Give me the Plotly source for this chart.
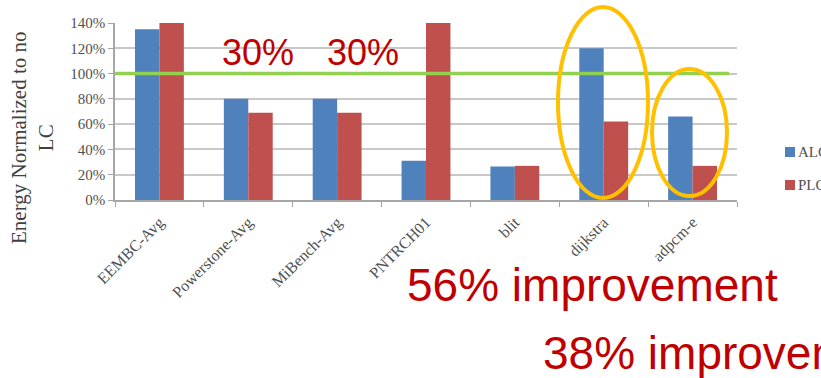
import plotly.graph_objects as go

categories = ["EEMBC-Avg", "Powerstone-Avg", "MiBench-Avg", "PNTRCH01", "blit", "dijkstra", "adpcm-e"]
alc = [135, 80, 80, 31, 26.5, 120, 66]
plc = [140, 69, 69, 140, 27, 62, 27]
y_ticks = [0, 20, 40, 60, 80, 100, 120, 140]
y_tick_labels = ["0%", "20%", "40%", "60%", "80%", "100%", "120%", "140%"]
baseline = 100

W, H = 821, 378
L, R, T, B = 115, 737, 23, 200  # plot area in pixels
PW, PH = R - L, B - T

def px(x):
    return (x - L) / PW

def py(y):
    return (B - y) / PH

fig = go.Figure()
fig.add_bar(x=categories, y=alc, name="ALC", marker=dict(color="#4F81BD", line=dict(width=0)))
fig.add_bar(x=categories, y=plc, name="PLC", marker=dict(color="#C0504D", line=dict(width=0)))

serif = "Liberation Serif"
sans = "Liberation Sans"
red = "#C00000"

shapes = [
    dict(type="line", xref="paper", yref="y", x0=0, x1=px(729), y0=baseline, y1=baseline,
         line=dict(color="#92D050", width=3.5)),
    dict(type="circle", xref="paper", yref="paper", x0=px(558), x1=px(648), y0=py(198), y1=py(7),
         line=dict(color="#FFC000", width=4)),
    dict(type="circle", xref="paper", yref="paper", x0=px(652), x1=px(727), y0=py(196), y1=py(69),
         line=dict(color="#FFC000", width=4)),
    dict(type="rect", xref="paper", yref="paper", x0=px(785), x1=px(795), y0=py(157), y1=py(147),
         fillcolor="#4F81BD", line=dict(width=0)),
    dict(type="rect", xref="paper", yref="paper", x0=px(785), x1=px(795), y0=py(190), y1=py(180),
         fillcolor="#C0504D", line=dict(width=0)),
]

annotations = [
    dict(text="30%", xref="paper", yref="paper", x=px(220), y=py(52), xanchor="left", yanchor="middle",
         showarrow=False, font=dict(family=sans, size=36, color=red)),
    dict(text="30%", xref="paper", yref="paper", x=px(325), y=py(52), xanchor="left", yanchor="middle",
         showarrow=False, font=dict(family=sans, size=36, color=red)),
    dict(text="56% improvement", xref="paper", yref="paper", x=px(405), y=py(285), xanchor="left",
         yanchor="middle", showarrow=False, font=dict(family=sans, size=46, color=red)),
    dict(text="38% improvement", xref="paper", yref="paper", x=px(541), y=py(353), xanchor="left",
         yanchor="middle", showarrow=False, font=dict(family=sans, size=46, color=red)),
    dict(text="ALC", xref="paper", yref="paper", x=px(796), y=py(152), xanchor="left", yanchor="middle",
         showarrow=False, font=dict(family=serif, size=15, color="#505050")),
    dict(text="PLC", xref="paper", yref="paper", x=px(796), y=py(185), xanchor="left", yanchor="middle",
         showarrow=False, font=dict(family=serif, size=15, color="#505050")),
    dict(text="Energy Normalized to no<br>LC", xref="paper", yref="paper", x=px(32), y=py(138),
         xanchor="center", yanchor="middle", textangle=-90, showarrow=False,
         font=dict(family=serif, size=21, color="#404040")),
]

fig.update_layout(
    width=W, height=H,
    margin=dict(l=L, r=W - R, t=T, b=H - B, pad=0),
    paper_bgcolor="white", plot_bgcolor="white",
    barmode="group", bargap=0.45, bargroupgap=0,
    showlegend=False,
    shapes=shapes, annotations=annotations,
    xaxis=dict(
        tickangle=-45, tickfont=dict(family=serif, size=16, color="#505050"),
        ticklabelstandoff=5,
        showline=True, linecolor="#A6A6A6", linewidth=1.5,
        ticks="outside", tickson="boundaries", ticklen=5, tickcolor="#A6A6A6",
        showgrid=False,
    ),
    yaxis=dict(
        range=[0, 140], tickvals=y_ticks, ticktext=y_tick_labels,
        tickfont=dict(family=serif, size=15, color="#505050"),
        showline=True, linecolor="#A6A6A6", linewidth=1.5,
        ticks="outside", ticklen=5, tickcolor="#A6A6A6",
        showgrid=True, gridcolor="#C8C8C8", gridwidth=2,
        zeroline=False,
    ),
)

fig.write_html("out.html")
